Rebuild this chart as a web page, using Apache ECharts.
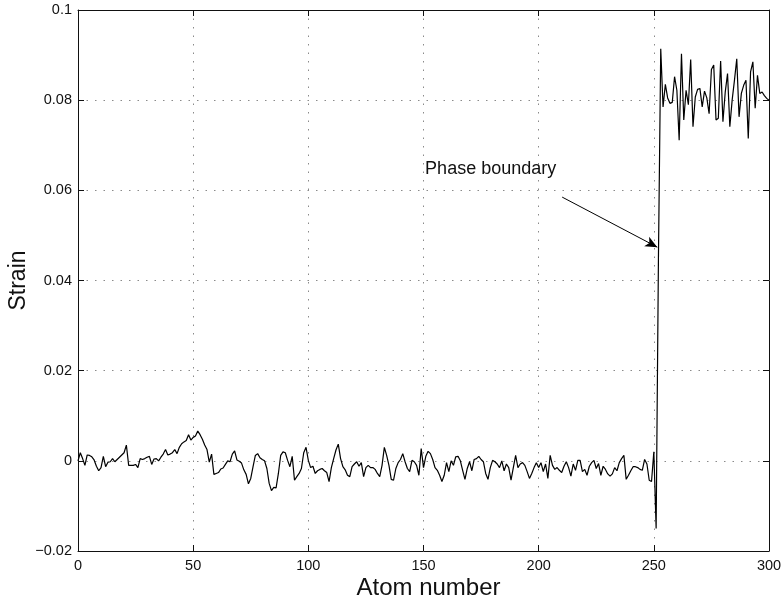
<!DOCTYPE html>
<html><head><meta charset="utf-8">
<script src="https://cdn.jsdelivr.net/npm/echarts@6/dist/echarts.min.js"></script>
<style>html,body{margin:0;padding:0;background:#fff}#c{width:781px;height:601px}</style>
</head><body><div id="c"></div>
<script>
// Strain per atom, atoms 0..300
const strainA = [0,0.0018,0.0005,-0.001,0.0013,0.0012,0.0009,0.0002,-0.0012,-0.0022,
-0.0015,0.001,-0.0013,-0.0003,-0.0002,0.0005,-0.0002,0.0003,0.0008,0.0013,
0.0018,0.0035,-0.001,-0.001,-0.001,-0.0008,-0.0015,0.0005,0.0003,0.0005,
0.0008,0.001,-0.0008,0.0004,0.0005,0,0.0008,0.0015,0.0025,0.0013,
0.0015,0.0018,0.0025,0.0016,0.003,0.0038,0.0042,0.0045,0.0058,0.0046,
0.0052,0.0055,0.0066,0.0058,0.0048,0.0035,0.0025,-0.0003,0.0015,-0.003,
-0.0028,-0.0026,-0.0018,-0.0016,-0.0008,0,-0.0002,0.0015,0.0022,0.0002,
-0.0001,-0.0005,-0.002,-0.003,-0.0051,-0.0039,-0.0013,0.0012,0.0016,0.0007];
const strainB = [0.0003,0,-0.0017,-0.005,-0.0066,-0.0059,-0.006,-0.0028,0.0012,0.002,
0.0018,0.0001,-0.0013,0.001,-0.0043,-0.0035,-0.0028,-0.0017,0.0018,0.003,
0.0001,-0.0015,-0.0012,-0.0028,-0.0022,-0.0019,-0.0017,-0.0022,-0.0026,-0.0046,
-0.0015,0.0005,0.0024,0.0037,0.0005,-0.0013,-0.002,-0.0032,-0.0035,-0.0013,
-0.0007,-0.0002,-0.0012,-0.0004,-0.0035,-0.0015,-0.001,-0.0015,-0.0015,-0.0019,
-0.0028,-0.0035,-0.001,0.003,0.0012,-0.001,-0.0041,-0.0043,-0.0017,-0.0004,
0.0003,0.0016,-0.0002,-0.0017,-0.0024,0.0001,-0.0002,-0.001,-0.0032,0.0027,
-0.0015,0.001,0.0021];
const strainC = [0.0016,0.0003,-0.0015,-0.0021,-0.0032,-0.0046,-0.0032,-0.0004,-0.0024,0,
-0.001,0.0009,0.001,0,-0.0021,-0.0041,-0.0017,-0.0002,-0.0022,0.0003,
0.0005,0.001,0.0003,-0.0002,-0.0028,-0.0041,-0.0015,0.0001,-0.0002,-0.0007,
-0.0015,0,-0.0022,-0.0007,-0.0015,-0.0043,-0.0015,0.0012,-0.0015,-0.0007,
-0.0004,-0.001,-0.0024,-0.0039,-0.0028,-0.0015,-0.0004,-0.0015,-0.0004,-0.0024,
-0.0007,-0.0039,0.0012,-0.001,-0.0019,-0.0015,-0.0021,-0.0026,-0.0012,-0.0002,
-0.0015,-0.0034,-0.0007,-0.0021,0.0001,0.0001,-0.0024,-0.0019,-0.0032,-0.0012,
-0.0004,0.0001,-0.0017,-0.0006];
const strainD = [-0.0032,-0.0012,-0.0019,-0.0029,-0.0034,-0.0029,-0.0015,-0.0022,-0.0004,0.0005,
0.0012,-0.0041,-0.0032,-0.0022,-0.0013,-0.0013,-0.0015,-0.0019,-0.0021,0.0003,
-0.0007,-0.0043,-0.0046,0.002,-0.015,0.045];
const strainE = [0.0914,0.0785,0.0835,0.0805,0.0793,0.0795,0.0852,0.0822,0.0711,0.0903,
0.0756,0.0822,0.079,0.089,0.0741,0.0807,0.0824,0.0826,0.0785,0.082,
0.0805,0.077,0.0868,0.0878,0.0756,0.076,0.0887,0.0752,0.0818,0.0859,
0.0741,0.08,0.0844,0.0892,0.0763,0.0815,0.0833,0.0844,0.0715,0.0863,
0.0885,0.0782,0.0855,0.0815,0.0818,0.081,0.0804,0.08];
const strain = strainA.concat(strainB, strainC, strainD, strainE);

const xTicks = [0, 50, 100, 150, 200, 250, 300];
const yTicks = [-0.02, 0, 0.02, 0.04, 0.06, 0.08, 0.1];
const annotationText = 'Phase boundary';
const annotationTextAt = [150.7, 0.0648];
const arrowFrom = [210.2, 0.0585];
const arrowTo = [251.5, 0.0474];

const FONT = '"Liberation Sans", Arial, Helvetica, sans-serif';
const fmtY = v => {
  if (Math.abs(v) < 1e-9) return '0';
  let s = String(Math.round(v * 1000) / 1000);
  return s.replace('-', '\u2212');
};

const pts = strain.map((v, i) => [i, v]);

const chart = echarts.init(document.getElementById('c'), null, {renderer: 'canvas'});
const gridLine = {show: true, lineStyle: {color: '#8a8a8a', width: 1, type: [1.5, 7]}};
const tick = {show: true, inside: true, length: 6, lineStyle: {color: '#111'}};
const axLine = {show: true, onZero: false, lineStyle: {color: '#111', width: 1}};
chart.setOption({
  backgroundColor: '#fff',
  animation: false,
  grid: {left: 78, right: 12, top: 10, bottom: 50, containLabel: false, outerBoundsMode: 'none'},
  xAxis: [{
    type: 'value', min: xTicks[0], max: xTicks[xTicks.length - 1], interval: 50,
    name: 'Atom number', nameLocation: 'middle', nameGap: 25, nameMoveOverlap: false,
    nameTextStyle: {fontFamily: FONT, fontSize: 24, color: '#111', padding: [0, 0, 0, 10]},
    axisLine: axLine, axisTick: tick,
    axisLabel: {fontFamily: FONT, fontSize: 14.5, color: '#111', margin: 7},
    splitLine: gridLine
  }, {
    type: 'value', position: 'top', min: 0, max: 300, interval: 50,
    axisLine: axLine, axisTick: tick,
    axisLabel: {show: false}, splitLine: {show: false}
  }],
  yAxis: [{
    type: 'value', min: yTicks[0], max: yTicks[yTicks.length - 1], interval: 0.02,
    name: 'Strain', nameLocation: 'middle', nameGap: 48, nameMoveOverlap: false,
    nameTextStyle: {fontFamily: FONT, fontSize: 23, color: '#111'},
    axisLine: axLine, axisTick: tick,
    axisLabel: {fontFamily: FONT, fontSize: 14.5, color: '#111', margin: 6, formatter: fmtY},
    splitLine: gridLine
  }, {
    type: 'value', position: 'right', min: -0.02, max: 0.1, interval: 0.02,
    axisLine: axLine, axisTick: tick,
    axisLabel: {show: false}, splitLine: {show: false}
  }],
  series: [{
    type: 'line', data: pts, showSymbol: false, symbol: 'none',
    lineStyle: {color: '#000', width: 1.2},
    markLine: {
      silent: true, symbol: ['none', 'arrow'], symbolSize: [8, 12],
      lineStyle: {color: '#000', width: 1, type: 'solid'},
      label: {show: false},
      data: [[{coord: arrowFrom}, {coord: arrowTo}]]
    },
    markPoint: {
      silent: true, symbol: 'circle', symbolSize: 0,
      data: [{coord: annotationTextAt, value: annotationText}],
      label: {show: true, position: 'right', distance: 0, formatter: annotationText,
        fontFamily: FONT, fontSize: 18, color: '#111'}
    }
  }]
});
</script></body></html>
